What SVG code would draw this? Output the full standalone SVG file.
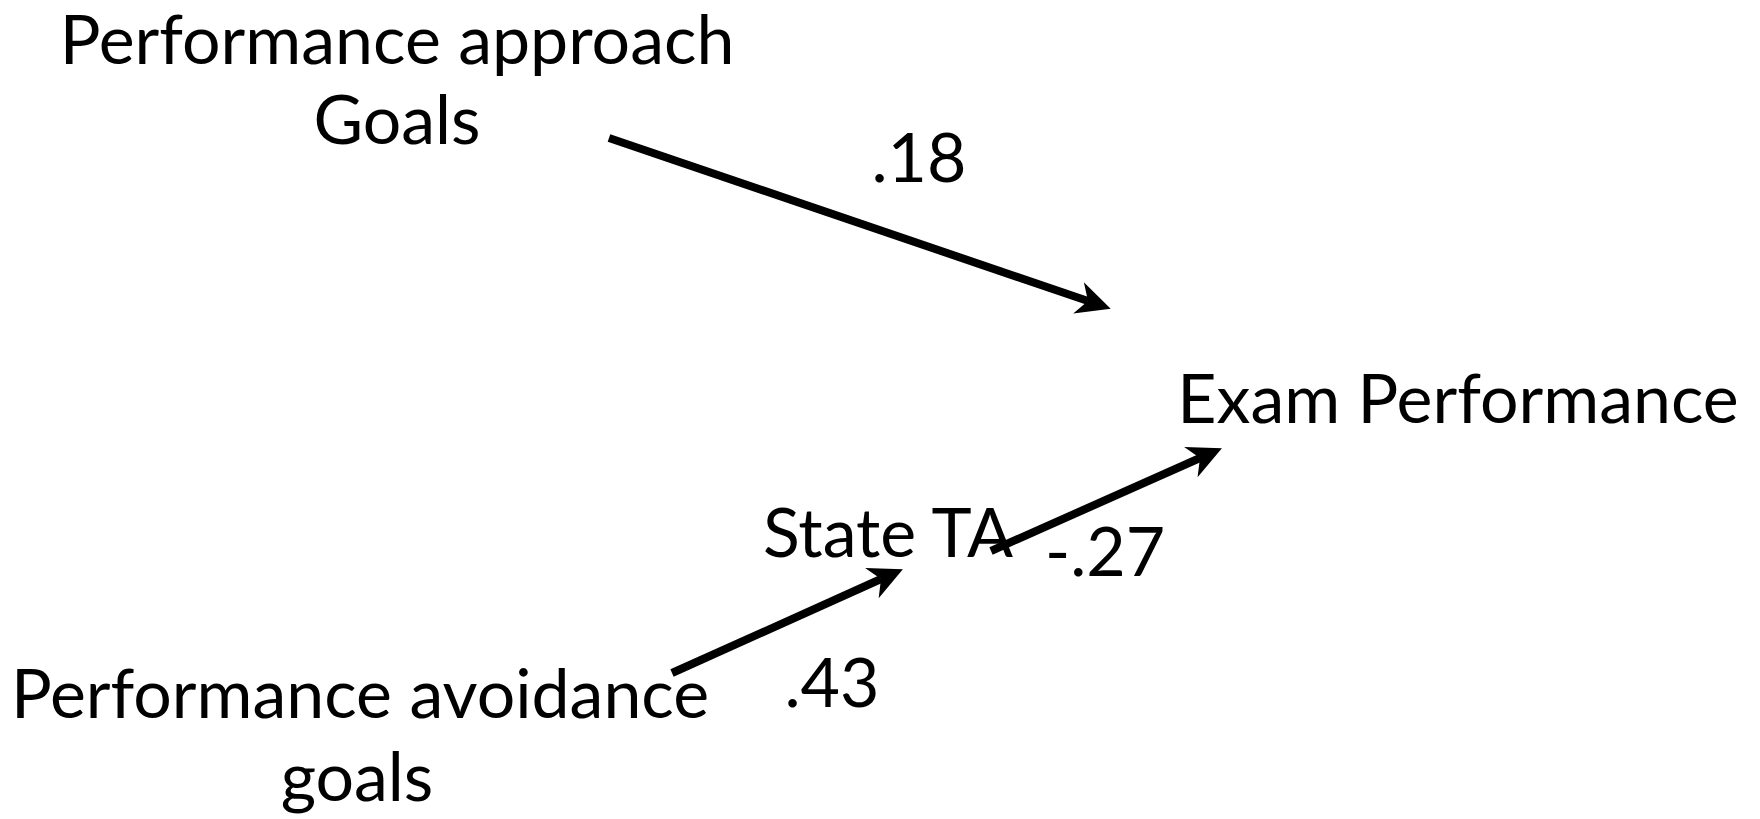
<svg xmlns="http://www.w3.org/2000/svg" width="1760" height="819" viewBox="0 0 1760 819">
<style>
text { font-family: Lato, "Liberation Sans", sans-serif; font-size: 68px; fill: #000; text-anchor: middle; }
.conn { stroke: #000; stroke-width: 8; fill: none; marker-end: url(#ah); }
</style>
<defs>
<marker id="ah" markerUnits="userSpaceOnUse" viewBox="-36 -18 37 36" markerWidth="37" markerHeight="36" refX="-24" refY="0" orient="auto">
<path d="M0,0 L-34,-16.5 L-24,0 L-34,16.5 Z" fill="#000"/>
</marker>
</defs>
<rect width="1760" height="819" fill="#fff"/>
<g id="connectors">
<line class="conn" x1="609" y1="138" x2="1088" y2="301"/>
<line class="conn" x1="991" y1="551" x2="1200" y2="458"/>
<line class="conn" x1="672" y1="673" x2="881" y2="579"/>
</g>
<g id="node-approach"><text x="397" y="64">Performance approach</text><text x="397" y="144">Goals</text></g>
<g id="node-exam"><text x="1458" y="423">Exam Performance</text></g>
<g id="node-stateta"><text x="888" y="557">State TA</text></g>
<g id="node-avoidance"><text x="360" y="718">Performance avoidance</text><text x="357" y="801">goals</text></g>
<g id="labels">
<text x="919" y="182">.18</text>
<text x="1105" y="576">-.27</text>
<text x="832" y="707">.43</text>
</g>
</svg>
